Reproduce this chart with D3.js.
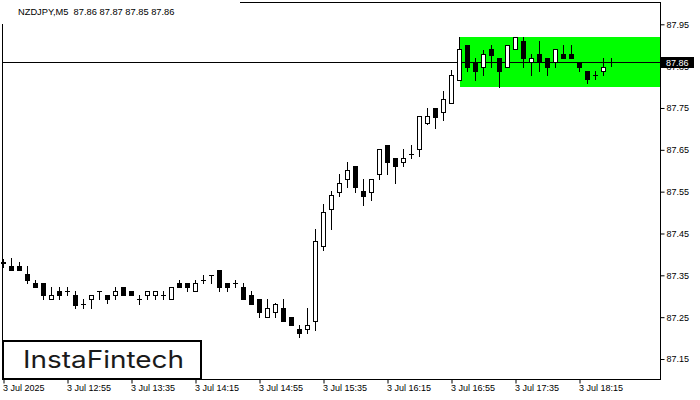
<!DOCTYPE html>
<html><head><meta charset="utf-8">
<script src="https://cdn.jsdelivr.net/npm/d3@7"></script>
<style>html,body{margin:0;padding:0;background:#fff;}svg{display:block;}</style>
</head><body>
<svg id="c" width="700" height="400"></svg>
<script>
const title = "NZDJPY,M5  87.86 87.87 87.85 87.86";
const openP  = [87.380,87.372,87.372,87.353,87.331,87.331,87.293,87.312,87.312,87.302,87.281,87.293,87.312,87.302,87.302,87.321,87.312,87.293,87.302,87.302,87.302,87.293,87.331,87.331,87.312,87.340,87.350,87.362,87.331,87.331,87.321,87.302,87.293,87.251,87.262,87.271,87.251,87.222,87.222,87.242,87.421,87.509,87.550,87.580,87.611,87.551,87.550,87.591,87.661,87.630,87.620,87.639,87.651,87.713,87.750,87.740,87.761,87.818,87.900,87.859,87.849,87.890,87.869,87.849,87.890,87.910,87.859,87.879,87.869,87.859,87.879,87.879,87.859,87.839,87.830,87.839,87.860];
const highP  = [87.388,87.391,87.383,87.372,87.340,87.331,87.321,87.321,87.321,87.312,87.293,87.302,87.312,87.302,87.321,87.321,87.312,87.302,87.312,87.312,87.312,87.321,87.340,87.331,87.340,87.350,87.350,87.362,87.331,87.340,87.331,87.312,87.293,87.293,87.283,87.293,87.251,87.231,87.271,87.460,87.520,87.552,87.591,87.620,87.611,87.580,87.580,87.651,87.661,87.630,87.651,87.661,87.730,87.750,87.750,87.791,87.841,87.920,87.900,87.869,87.889,87.900,87.869,87.900,87.920,87.919,87.879,87.910,87.869,87.890,87.900,87.900,87.859,87.839,87.839,87.869,87.870];
const lowP   = [87.370,87.363,87.363,87.331,87.321,87.293,87.293,87.293,87.302,87.271,87.271,87.271,87.293,87.283,87.293,87.302,87.302,87.281,87.293,87.293,87.293,87.293,87.321,87.312,87.312,87.331,87.331,87.312,87.312,87.321,87.293,87.281,87.251,87.251,87.251,87.242,87.231,87.202,87.212,87.220,87.410,87.460,87.540,87.560,87.550,87.519,87.531,87.580,87.591,87.570,87.611,87.630,87.636,87.711,87.701,87.721,87.761,87.818,87.839,87.817,87.829,87.849,87.799,87.849,87.890,87.849,87.830,87.839,87.830,87.849,87.869,87.869,87.839,87.809,87.819,87.830,87.850];
const closeP = [87.381,87.363,87.363,87.340,87.321,87.303,87.302,87.303,87.312,87.279,87.281,87.302,87.312,87.293,87.312,87.302,87.302,87.293,87.312,87.312,87.302,87.321,87.321,87.321,87.331,87.340,87.350,87.321,87.321,87.331,87.293,87.281,87.262,87.271,87.281,87.242,87.231,87.211,87.231,87.432,87.501,87.541,87.570,87.601,87.560,87.540,87.580,87.651,87.620,87.611,87.630,87.639,87.730,87.732,87.729,87.771,87.830,87.890,87.849,87.839,87.879,87.877,87.839,87.900,87.919,87.869,87.869,87.859,87.849,87.890,87.869,87.869,87.849,87.819,87.830,87.849,87.860];
const xTickIdx = [0,8,16,24,32,40,48,56,64,72];
const xTickLabels = ["3 Jul 2025","3 Jul 12:55","3 Jul 13:35","3 Jul 14:15","3 Jul 14:55","3 Jul 15:35","3 Jul 16:15","3 Jul 16:55","3 Jul 17:35","3 Jul 18:15"];
const yTicks = [87.15,87.25,87.35,87.45,87.55,87.65,87.75,87.85,87.95];
const lastPrice = 87.86;
const zoneStartIdx = 57;
const zoneHigh = 87.92, zoneLow = 87.80;
const logoText = "InstaFintech";

const svg = d3.select("#c");
const L = 2.5, R = 660.5, T = 2.5, B = 379.5;
const font = "Liberation Sans, Arial, sans-serif";

const x = d3.scaleLinear().domain([0, 76]).range([3.5, 611.5]);
const y = d3.scaleLinear().domain([87.15, 87.95]).range([359, 24.3]);
const px = v => Math.round(v) + 0.5;

// green zone
svg.append("rect")
  .attr("x", Math.round(x(zoneStartIdx)))
  .attr("y", Math.round(y(zoneHigh)))
  .attr("width", R - Math.round(x(zoneStartIdx)))
  .attr("height", Math.round(y(zoneLow)) - Math.round(y(zoneHigh)))
  .attr("fill", "#00ff00");

// price line
svg.append("line").attr("x1", L).attr("x2", R)
  .attr("y1", px(y(lastPrice))).attr("y2", px(y(lastPrice)))
  .attr("stroke", "#000").attr("stroke-width", 1);

// candles
const data = openP.map((o, i) => ({i, o, h: highP[i], l: lowP[i], c: closeP[i]}));
const g = svg.append("g").attr("shape-rendering", "crispEdges");
data.forEach(d => {
  const cx = x(d.i);
  g.append("line").attr("x1", cx).attr("x2", cx)
    .attr("y1", Math.round(y(d.h))).attr("y2", Math.round(y(d.l)) + 1)
    .attr("stroke", "#000");
  const top = Math.round(y(Math.max(d.o, d.c)));
  const bot = Math.round(y(Math.min(d.o, d.c)));
  if (bot - top < 1) {
    g.append("line").attr("x1", cx - 2.5).attr("x2", cx + 2.5)
      .attr("y1", top + 0.5).attr("y2", top + 0.5).attr("stroke", "#000");
  } else {
    g.append("rect").attr("x", cx - 2).attr("y", top + 0.5)
      .attr("width", 4).attr("height", bot - top)
      .attr("fill", d.c >= d.o ? "#fff" : "#000").attr("stroke", "#000");
  }
});

// axes
const xAxis = svg.append("g").attr("transform", `translate(0,${B})`)
  .call(d3.axisBottom(x).tickValues(xTickIdx).tickFormat((d, k) => xTickLabels[k]).tickSize(4).tickSizeOuter(0));
xAxis.select(".domain").remove();
xAxis.selectAll("text").attr("text-anchor", "start").attr("dx", -1).attr("dy", "0.55em")
  .attr("font-family", font).attr("font-size", 9).attr("fill", "#000");
xAxis.selectAll("line").attr("stroke", "#000");

const yAxis = svg.append("g").attr("transform", `translate(${R},0)`)
  .call(d3.axisRight(y).tickValues(yTicks).tickFormat(d3.format(".2f")).tickSize(4).tickSizeOuter(0));
yAxis.select(".domain").remove();
yAxis.selectAll("text").attr("x", 6).attr("font-family", font).attr("font-size", 9).attr("fill", "#000");
yAxis.selectAll("line").attr("stroke", "#000");

// border
svg.append("rect").attr("x", L).attr("y", T).attr("width", R - L).attr("height", B - T)
  .attr("fill", "none").attr("stroke", "#000").attr("shape-rendering", "crispEdges");

// title with background
svg.append("rect").attr("x", 0).attr("y", 0).attr("width", 240).attr("height", 24).attr("fill", "#fff");
svg.append("text").attr("x", 18).attr("y", 15).attr("font-family", font).attr("font-size", 9.3)
  .attr("fill", "#000").attr("xml:space", "preserve").style("white-space", "pre").text(title);

// price label
const py = Math.round(y(lastPrice));
svg.append("rect").attr("x", 661).attr("y", py - 5).attr("width", 33).attr("height", 11).attr("fill", "#000");
svg.append("text").attr("x", 666).attr("y", py + 4).attr("font-family", font).attr("font-size", 9)
  .attr("fill", "#fff").text(d3.format(".2f")(lastPrice));

// logo
svg.append("rect").attr("x", 3).attr("y", 341).attr("width", 198).attr("height", 38)
  .attr("fill", "#fff").attr("stroke", "#000").attr("stroke-width", 2);
svg.append("text").attr("x", 23).attr("y", 368).attr("font-family", "Inter, Lato, sans-serif")
  .attr("font-weight", 400).attr("font-size", 24).attr("fill", "#1a1a1a")
  .attr("textLength", 161).attr("lengthAdjust", "spacingAndGlyphs").text(logoText);
</script>
</body></html>
